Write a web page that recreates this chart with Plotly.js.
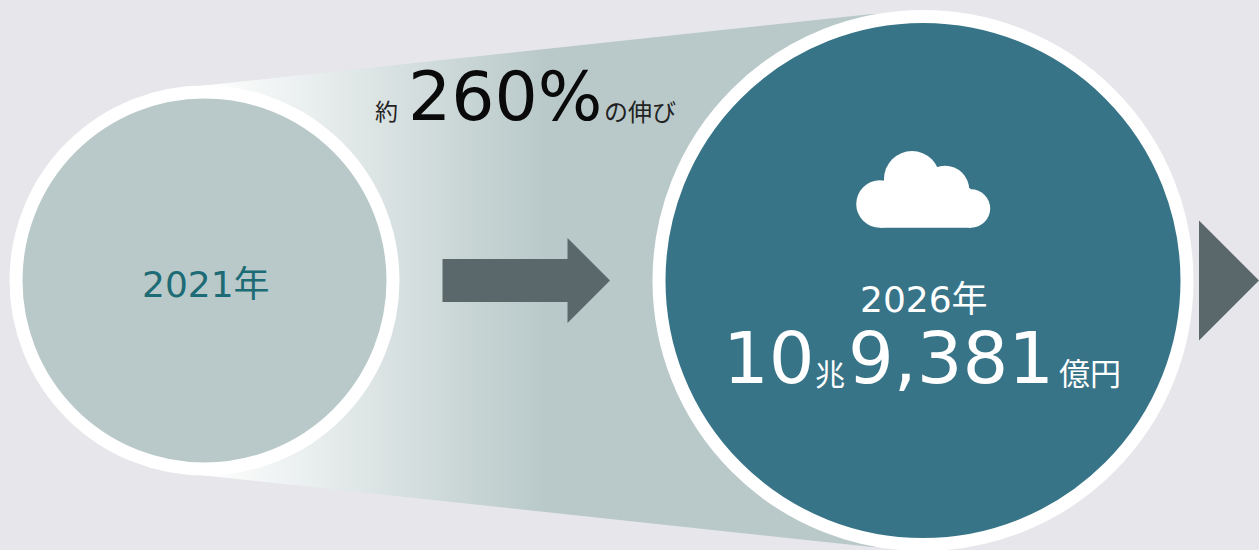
<!DOCTYPE html>
<html lang="ja">
<head>
<meta charset="utf-8">
<script src="https://cdn.plot.ly/plotly-3.0.1.min.js"></script>
<style>html,body{margin:0;padding:0;background:#E6E6EB;overflow:hidden}#chart{width:1259px;height:550px}</style>
</head>
<body>
<div id="chart"></div>
<script>
// Content
const years = ["2021年", "2026年"];
const growthParts = ["約", "260%", "の伸び"];
const valueParts = ["10", "兆", "9,381", "億円"];

// Style
const BG = "#E6E6EB", PALE = "#B9C9C9", TEAL = "#377488", SLATE = "#5A686C", DARK = "#1C6B75";
const LATIN = "'DejaVu Sans', 'Noto Sans CJK JP', sans-serif";
const CJK = "'Noto Sans CJK JP', sans-serif";

// Layout geometry, in pixels of the 1259x550 canvas
const small = {x: 204.5, y: 280.5, inner: 182, ring: 13};
const big = {x: 923, y: 280.5, inner: 257.5, ring: 13};

const wedge = {
  type: "scatter", mode: "none", hoverinfo: "skip", showlegend: false,
  x: [204, 872, 900, 900, 872, 204],
  y: [85.5, 14, 14, 547, 547, 475.5],
  fill: "toself",
  fillgradient: {
    type: "horizontal", start: 204, stop: 545,
    colorscale: [[0, "#FFFFFF"], [1, PALE]]
  }
};
function disc(c, fill) {
  return {
    type: "scatter", mode: "markers", hoverinfo: "skip", showlegend: false, cliponaxis: false,
    x: [c.x], y: [c.y],
    marker: {symbol: "circle", size: 2 * (c.inner + c.ring / 2), color: fill, opacity: 1,
             line: {color: "#FFFFFF", width: c.ring}}
  };
}

function label(text, x, y, size, color, font, anchor, weight) {
  return {text, x, y, xref: "x", yref: "y", xanchor: anchor || "left", yanchor: "middle",
          showarrow: false, borderpad: 0, borderwidth: 0,
          font: {size, color, family: font, weight: weight || 400}};
}
const annotations = [
  label(growthParts[0], 375, 110, 23, "#222222", CJK, "left", 400),
  label(growthParts[1], 408, 96, 68, "#0A0A0A", LATIN, "left", 400),
  label(growthParts[2], 604, 110, 24, "#222222", CJK, "left", 400),
  label(years[0], 205.5, 284, 36, DARK, LATIN, "center", 400),
  label(years[1], 924, 299, 36, "#FFFFFF", LATIN, "center", 400),
  label(valueParts[0], 723, 358, 72, "#FFFFFF", LATIN, "left", 400),
  label(valueParts[1], 815, 372, 30, "#FFFFFF", CJK, "left", 400),
  label(valueParts[2], 848, 358, 72, "#FFFFFF", LATIN, "left", 400),
  label(valueParts[3], 1059, 371, 31, "#FFFFFF", CJK, "left", 400)
];

function pathShape(path, color) {
  return {type: "path", xref: "x", yref: "y", path, fillcolor: color, line: {width: 0}, layer: "above"};
}
function lobe(cx, cy, r) {
  return {type: "circle", xref: "x", yref: "y", x0: cx - r, x1: cx + r, y0: cy - r, y1: cy + r,
          fillcolor: "#FFFFFF", line: {width: 0}, layer: "above"};
}
const shapes = [
  pathShape("M442.5,259 L567.5,259 L567.5,238 L610,280.5 L567.5,323 L567.5,302 L442.5,302 Z", SLATE),
  pathShape("M1199,220.5 L1259,280.5 L1199,340.5 Z", SLATE),
  lobe(880, 204, 23.8), lobe(912, 179, 28), lobe(945, 190, 24.3), lobe(971, 208.5, 19.2),
  pathShape("M880,227.8 L880,190 L884,180 L945,170 L971,189.3 L971,227.8 Z", "#FFFFFF")
];

const layout = {
  width: 1259, height: 550,
  margin: {l: 0, r: 0, t: 0, b: 0, pad: 0},
  paper_bgcolor: BG, plot_bgcolor: BG, showlegend: false,
  xaxis: {range: [0, 1259], visible: false, fixedrange: true},
  yaxis: {range: [550, 0], visible: false, fixedrange: true},
  annotations, shapes
};
Plotly.newPlot("chart", [wedge, disc(small, PALE), disc(big, TEAL)], layout,
  {displayModeBar: false, staticPlot: true});
</script>
</body>
</html>
